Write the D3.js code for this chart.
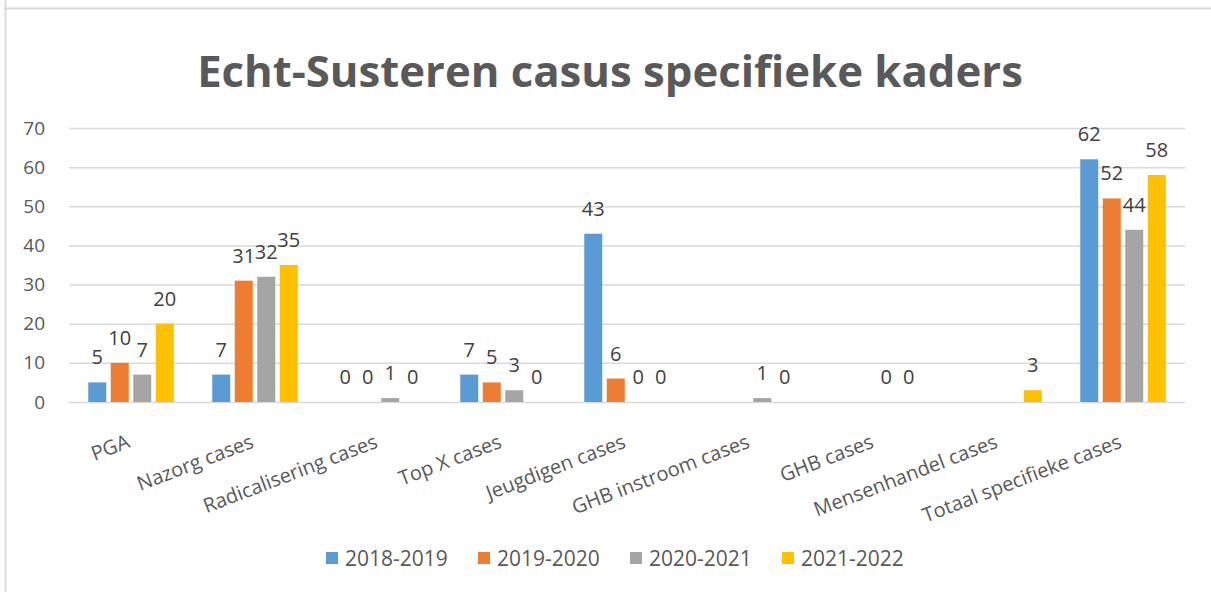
<!DOCTYPE html>
<html>
<head>
<meta charset="utf-8">
<script src="https://cdn.jsdelivr.net/npm/d3@7"></script>
<style>
  body { margin: 0; background: #fff; }
  text { font-family: "Open Sans", "Liberation Sans", sans-serif; }
</style>
</head>
<body>
<svg></svg>
<script>
var categories = ["PGA", "Nazorg cases", "Radicalisering cases", "Top X cases", "Jeugdigen cases",
    "GHB instroom cases", "GHB cases", "Mensenhandel cases", "Totaal specifieke cases"];
var series = ["2018-2019", "2019-2020", "2020-2021", "2021-2022"];
// one array per season, null = no value shown
var v2018 = [5, 7, 0, 7, 43, null, null, null, 62];
var v2019 = [10, 31, 0, 5, 6, null, null, null, 52];
var v2020 = [7, 32, 1, 3, 0, 1, 0, null, 44];
var v2021 = [20, 35, 0, 0, 0, 0, 0, 3, 58];
var yTicks = [0, 10, 20, 30, 40, 50, 60, 70];
var colors = ["#5b9bd5", "#ed7d31", "#a5a5a5", "#ffc000"];

var width = 1211, height = 592;
var svg = d3.select("svg").attr("width", width).attr("height", height);

var values = [v2018, v2019, v2020, v2021];
var rows = [];
categories.forEach(function (c, i) {
    series.forEach(function (s, j) {
        rows.push({cat: c, ser: s, value: values[j][i], idx: j});
    });
});

var x0 = d3.scaleBand().domain(categories).range([69, 1185]).padding(0);
var x1 = d3.scaleBand().domain(series).range([0, x0.bandwidth()])
    .paddingInner(0.2).paddingOuter(0.855);
var y = d3.scaleLinear().domain([0, 70]).range([402, 128]);
var color = d3.scaleOrdinal().domain(series).range(colors);

// frame
svg.append("line").attr("x1", 4).attr("x2", width).attr("y1", 8.5).attr("y2", 8.5)
    .style("stroke", "#d9d9d9").attr("stroke-width", 2);
svg.append("line").attr("x1", 5.5).attr("x2", 5.5).attr("y1", 0).attr("y2", height)
    .style("stroke", "#d9d9d9").attr("stroke-width", 2);

// title
var title = svg.append("text")
    .attr("x", 610).attr("y", 87)
    .attr("text-anchor", "middle")
    .style("font-weight", "700")
    .style("font-size", "40px")
    .attr("fill", "#595959")
    .text("Echt-Susteren casus specifieke kaders");
var tl = title.node().getComputedTextLength();
title.style("font-size", (40 * 826 / tl) + "px");

// y axis + gridlines
var yAxis = svg.append("g")
    .attr("transform", "translate(69,0)")
    .call(d3.axisLeft(y).tickValues(yTicks).tickSize(-(1185 - 69)).tickPadding(24));
yAxis.select(".domain").remove();
yAxis.selectAll(".tick line").style("stroke", "#d9d9d9").attr("stroke-width", 1.5);
yAxis.selectAll(".tick text")
    .style("font-size", "19px")
    .style("font-family", "'Open Sans', sans-serif")
    .attr("fill", "#595959");

// bars
svg.append("g").selectAll("rect")
    .data(rows.filter(function (d) { return d.value !== null; }))
    .enter().append("rect")
    .attr("x", function (d) { return x0(d.cat) + x1(d.ser); })
    .attr("y", function (d) { return y(d.value); })
    .attr("width", x1.bandwidth())
    .attr("height", function (d) { return y(0) - y(d.value); })
    .attr("fill", function (d) { return color(d.ser); });

// data labels
svg.append("g").selectAll("text")
    .data(rows.filter(function (d) { return d.value !== null; }))
    .enter().append("text")
    .attr("x", function (d) { return x0(d.cat) + x1(d.ser) + x1.bandwidth() / 2; })
    .attr("y", function (d) { return y(d.value) - 18; })
    .attr("text-anchor", "middle")
    .style("font-size", "20px")
    .attr("fill", "#404040")
    .text(function (d) { return d.value; });

// x axis labels
var xAxis = svg.append("g")
    .attr("transform", "translate(0,402)")
    .call(d3.axisBottom(x0).tickSize(0));
xAxis.select(".domain").remove();
xAxis.selectAll(".tick text")
    .attr("x", 0).attr("y", 0).attr("dy", 0)
    .attr("transform", "translate(0,45) rotate(-21)")
    .attr("text-anchor", "end")
    .style("font-size", "20px")
    .style("font-family", "'Open Sans', sans-serif")
    .attr("fill", "#595959");

// legend
var legend = svg.append("g").selectAll("g")
    .data(series)
    .enter().append("g")
    .attr("transform", function (d, i) { return "translate(" + (326 + i * 152) + ",552)"; });
legend.append("rect")
    .attr("width", 12).attr("height", 12)
    .attr("fill", function (d) { return color(d); });
legend.append("text")
    .attr("x", 19).attr("y", 14)
    .style("font-size", "21px")
    .attr("fill", "#595959")
    .text(function (d) { return d; });
</script>
</body>
</html>
